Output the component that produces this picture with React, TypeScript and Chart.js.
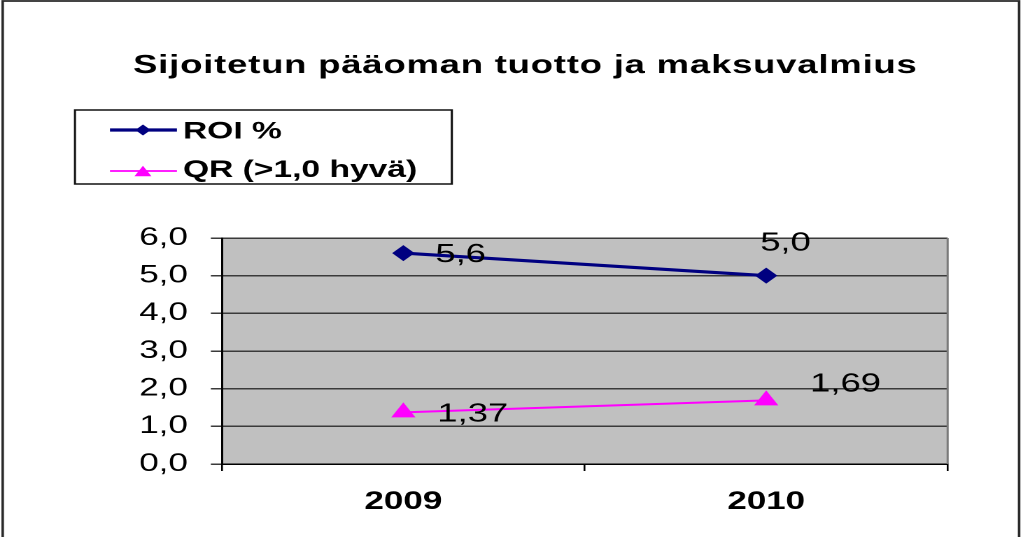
import React, { useEffect, useRef } from 'react';
import { Chart, registerables } from 'chart.js';

Chart.register(...registerables);

// ---- data ----
const TITLE = 'Sijoitetun pääoman tuotto ja maksuvalmius';
const CATEGORIES = ['2009', '2010'];
const SERIES_NAMES = ['ROI %', 'QR (>1,0 hyvä)'];
const ROI_VALUES = [5.6, 5.0];
const QR_VALUES = [1.37, 1.69];
const LABEL_DECIMALS = [1, 2];
const Y_TICKS = [0, 1, 2, 3, 4, 5, 6];

// ---- layout / style (not data) ----
const W = 1023;
const H = 537;
const SX = 1.4; // horizontal stretch of the original bitmap
const LW = Math.round(W / SX);
const FONT = '"Liberation Sans", Arial, Helvetica, sans-serif';
const COLORS = ['#000080', '#FF00FF'];
// per-series, per-point label offsets (logical px): [dx to left edge, dy to baseline]
const LABEL_OFFSETS = [
  [[22.9, 9], [-4.3, -25]],
  [[24.3, 9.3], [31.4, -8.6]],
];

const fmt = (v: number, d: number) => v.toFixed(d).replace('.', ',');

function drawMarker(ctx: CanvasRenderingContext2D, style: string, x: number, y: number, r: number, color: string) {
  ctx.save();
  ctx.fillStyle = color;
  ctx.beginPath();
  if (style === 'rectRot') {
    ctx.moveTo(x, y - r);
    ctx.lineTo(x + r, y);
    ctx.lineTo(x, y + r);
    ctx.lineTo(x - r, y);
  } else {
    const h = r * 0.75;
    ctx.moveTo(x, y - h);
    ctx.lineTo(x + r * 0.866, y + h);
    ctx.lineTo(x - r * 0.866, y + h);
  }
  ctx.closePath();
  ctx.fill();
  ctx.restore();
}

const decorPlugin = {
  id: 'decor',
  beforeDraw(chart: any) {
    const { ctx, chartArea } = chart;
    ctx.save();
    ctx.fillStyle = '#ffffff';
    ctx.fillRect(0, 0, chart.width, chart.height);
    ctx.fillStyle = '#C0C0C0';
    ctx.fillRect(chartArea.left, chartArea.top, chartArea.right - chartArea.left, chartArea.bottom - chartArea.top);
    ctx.restore();
  },
  beforeDatasetsDraw(chart: any) {
    const { ctx, chartArea } = chart;
    ctx.save();
    ctx.strokeStyle = '#7a7a7a';
    ctx.lineWidth = 1.5;
    ctx.beginPath();
    ctx.moveTo(chartArea.right, chartArea.top);
    ctx.lineTo(chartArea.right, chartArea.bottom);
    ctx.stroke();
    ctx.restore();
  },
  afterDatasetsDraw(chart: any) {
    const { ctx } = chart;
    ctx.save();
    ctx.fillStyle = '#000';
    ctx.font = `26px ${FONT}`;
    ctx.textAlign = 'left';
    ctx.textBaseline = 'alphabetic';
    chart.data.datasets.forEach((ds: any, di: number) => {
      const meta = chart.getDatasetMeta(di);
      meta.data.forEach((pt: any, i: number) => {
        const [dx, dy] = LABEL_OFFSETS[di][i];
        ctx.fillText(fmt(ds.data[i], LABEL_DECIMALS[di]), pt.x + dx, pt.y + dy);
      });
    });
    ctx.restore();
  },
  afterDraw(chart: any) {
    const { ctx } = chart;
    ctx.save();
    // title
    ctx.fillStyle = '#000';
    ctx.font = `bold 26px ${FONT}`;
    (ctx as any).letterSpacing = '0.6px';
    ctx.textAlign = 'center';
    ctx.textBaseline = 'alphabetic';
    ctx.fillText(TITLE, 375.4, 73);
    (ctx as any).letterSpacing = '0px';

    // legend box
    const bx1 = 75 / SX, bx2 = 452 / SX, by1 = 110, by2 = 184;
    ctx.strokeStyle = '#111';
    ctx.lineWidth = 1.5;
    ctx.strokeRect(bx1, by1, bx2 - bx1, by2 - by1);
    const rows = [130, 171];
    const textBase = [138.5, 177];
    const lineW = [3.2, 1.8];
    const markR = [5.5, 7];
    chart.data.datasets.forEach((ds: any, di: number) => {
      const y = rows[di];
      ctx.strokeStyle = ds.borderColor;
      ctx.lineWidth = lineW[di];
      ctx.beginPath();
      ctx.moveTo(110 / SX, y);
      ctx.lineTo(177 / SX, y);
      ctx.stroke();
      drawMarker(ctx, ds.pointStyle, 143 / SX, y, markR[di], ds.borderColor);
      ctx.fillStyle = '#000';
      ctx.font = `bold 24px ${FONT}`;
      ctx.textAlign = 'left';
      ctx.fillText(ds.label, 183 / SX, textBase[di]);
    });

    // outer frame
    ctx.strokeStyle = '#2a2a2a';
    ctx.lineWidth = 1.8;
    ctx.beginPath();
    ctx.moveTo(2.7 / SX, H);
    ctx.lineTo(2.7 / SX, 1);
    ctx.lineTo(1019.5 / SX, 1);
    ctx.lineTo(1019.5 / SX, H);
    ctx.stroke();
    ctx.restore();
  },
};

export default function App() {
  const ref = useRef<HTMLCanvasElement | null>(null);

  useEffect(() => {
    const canvas = ref.current;
    if (!canvas) return;
    const chart = new Chart(canvas, {
      type: 'line',
      data: {
        labels: CATEGORIES,
        datasets: [
          {
            label: SERIES_NAMES[0],
            data: ROI_VALUES,
            borderColor: COLORS[0],
            backgroundColor: COLORS[0],
            pointBackgroundColor: COLORS[0],
            borderWidth: 3.2,
            pointStyle: 'rectRot',
            pointRadius: 8,
            pointBorderWidth: 0,
            tension: 0,
            fill: false,
          },
          {
            label: SERIES_NAMES[1],
            data: QR_VALUES,
            borderColor: COLORS[1],
            backgroundColor: COLORS[1],
            pointBackgroundColor: COLORS[1],
            borderWidth: 2,
            pointStyle: 'triangle',
            pointRadius: 10,
            pointBorderWidth: 0,
            tension: 0,
            fill: false,
          },
        ],
      },
      options: {
        responsive: false,
        animation: false,
        devicePixelRatio: 2,
        layout: { padding: { left: 0, right: LW - 948 / SX, top: 238, bottom: 0 } },
        plugins: {
          legend: { display: false },
          title: { display: false },
          tooltip: { enabled: false },
        },
        scales: {
          x: {
            offset: true,
            grid: {
              offset: true,
              drawOnChartArea: false,
              drawTicks: true,
              tickLength: 7,
              color: '#000',
              lineWidth: 1.3,
            },
            border: { color: '#000', width: 1.5 },
            ticks: {
              color: '#000',
              font: { family: FONT, size: 25, weight: 'bold' },
              padding: 16,
              maxRotation: 0,
            },
            afterFit: (s: any) => {
              s.height = 73;
            },
          },
          y: {
            min: 0,
            max: 6,
            afterBuildTicks: (s: any) => {
              s.ticks = Y_TICKS.map((v) => ({ value: v }));
            },
            ticks: {
              color: '#000',
              font: { family: FONT, size: 25 },
              padding: 16.4,
              callback: (v: any) => fmt(Number(v), 1),
            },
            grid: { color: '#3a3a3a', lineWidth: 1.5, tickLength: 7.9 },
            border: { color: '#000', width: 1.5 },
            afterFit: (s: any) => {
              s.width = 222 / SX;
            },
          },
        },
      } as any,
      plugins: [decorPlugin],
    });
    return () => chart.destroy();
  }, []);

  return (
    <div style={{ position: 'absolute', left: 0, top: 0, width: W, height: H, background: '#fff', overflow: 'hidden' }}>
      <canvas ref={ref} width={LW} height={H} style={{ width: `${W}px`, height: `${H}px`, display: 'block' }} />
    </div>
  );
}
